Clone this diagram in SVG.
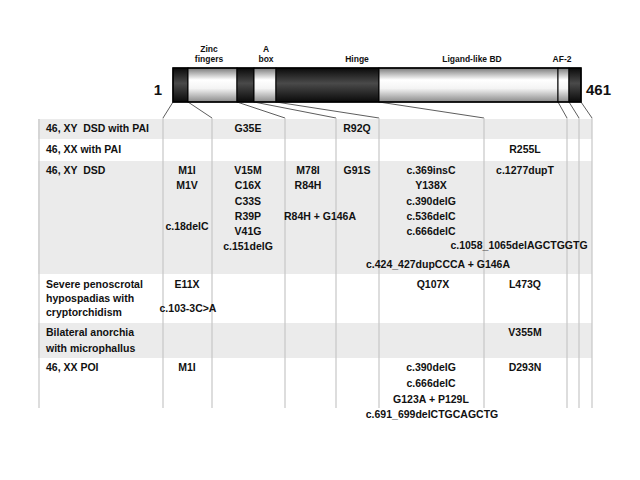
<svg xmlns="http://www.w3.org/2000/svg" width="640" height="480" viewBox="0 0 640 480">
<defs>
<linearGradient id="gLight" x1="0" y1="0" x2="0" y2="1">
<stop offset="0" stop-color="#7a7a7a"/>
<stop offset="0.35" stop-color="#ffffff"/>
<stop offset="0.6" stop-color="#f4f4f4"/>
<stop offset="1" stop-color="#8a8a8a"/>
</linearGradient>
<linearGradient id="gDark" x1="0" y1="0" x2="0" y2="1">
<stop offset="0" stop-color="#0a0a0a"/>
<stop offset="0.45" stop-color="#4a4a4a"/>
<stop offset="1" stop-color="#0a0a0a"/>
</linearGradient>
<style>
text{font-family:"Liberation Sans",Arial,sans-serif;font-weight:bold;fill:#111}
.t{font-size:10.5px}
.c{font-size:10.5px;text-anchor:middle}
.d{font-size:8.5px;text-anchor:middle}
.n{font-size:15px}
.lt{fill:url(#gLight);stroke:#000;stroke-width:1}
.dk{fill:url(#gDark);stroke:#000;stroke-width:1}
.band{fill:#ebebeb}
.vl{stroke:#c6c6c6;stroke-width:1.2;fill:none}
.sl{stroke:#333;stroke-width:0.8;fill:none}
</style>
</defs>
<rect width="640" height="480" fill="#fff"/>

<g id="table-bands">
<rect class="band" x="38" y="119" width="554" height="20"/>
<rect class="band" x="38" y="161" width="554" height="113"/>
<rect class="band" x="38" y="323" width="554" height="35"/>
</g>

<g id="connectors">
<line class="sl" x1="173" y1="102" x2="163" y2="118"/>
<line class="sl" x1="188" y1="102" x2="212" y2="118"/>
<line class="sl" x1="237" y1="102" x2="285" y2="118"/>
<line class="sl" x1="254" y1="102" x2="336" y2="118"/>
<line class="sl" x1="276" y1="102" x2="379" y2="118"/>
<line class="sl" x1="379" y1="102" x2="484" y2="118"/>
<line class="sl" x1="558" y1="102" x2="567" y2="118"/>
<line class="sl" x1="569" y1="102" x2="579" y2="118"/>
<line class="sl" x1="581" y1="102" x2="592" y2="118"/>
<line class="vl" x1="39" y1="119" x2="39" y2="408"/>
<line class="vl" x1="163" y1="118" x2="163" y2="408"/>
<line class="vl" x1="212" y1="118" x2="212" y2="408"/>
<line class="vl" x1="285" y1="118" x2="285" y2="408"/>
<line class="vl" x1="336" y1="118" x2="336" y2="408"/>
<line class="vl" x1="379" y1="118" x2="379" y2="408"/>
<line class="vl" x1="484" y1="118" x2="484" y2="408"/>
<line class="vl" x1="567" y1="118" x2="567" y2="408"/>
<line class="vl" x1="579" y1="118" x2="579" y2="408"/>
<line class="vl" x1="592" y1="118" x2="592" y2="408"/>
</g>

<g id="protein-bar">
<g id="seg-n"><rect class="dk" x="173" y="68" width="15" height="34"/></g>
<g id="seg-zinc"><rect class="lt" x="188" y="68" width="49" height="34"/></g>
<g id="seg-link"><rect class="dk" x="237" y="68" width="17" height="34"/></g>
<g id="seg-abox"><rect class="lt" x="254" y="68" width="22" height="34"/></g>
<g id="seg-hinge"><rect class="dk" x="276" y="68" width="103" height="34"/></g>
<g id="seg-lbd"><rect class="lt" x="379" y="68" width="179" height="34"/></g>
<g id="seg-af2"><rect class="lt" x="558" y="68" width="11" height="34"/></g>
<g id="seg-c"><rect class="dk" x="569" y="68" width="12" height="34"/></g>
<rect x="173" y="68" width="408" height="34" fill="none" stroke="#000" stroke-width="1.5"/>
</g>

<g id="bar-labels">
<text class="d" x="209" y="52">Zinc</text>
<text class="d" x="209" y="62">fingers</text>
<text class="d" x="266" y="52">A</text>
<text class="d" x="266" y="62">box</text>
<text class="d" x="357" y="62">Hinge</text>
<text class="d" x="472" y="62">Ligand-like BD</text>
<text class="d" x="562" y="62">AF-2</text>
<text class="n" x="162" y="95" text-anchor="end">1</text>
<text class="n" x="586" y="95">461</text>
</g>

<g id="row-xy-dsd-pai">
<text class="t" x="46" y="132" xml:space="preserve">46, XY  DSD with PAI</text>
<text class="c" x="248" y="132">G35E</text>
<text class="c" x="357" y="132">R92Q</text>
</g>

<g id="row-xx-pai">
<text class="t" x="46" y="153">46, XX with PAI</text>
<text class="c" x="525" y="153">R255L</text>
</g>

<g id="row-xy-dsd">
<text class="t" x="46" y="174" xml:space="preserve">46, XY  DSD</text>
<text class="c" x="187" y="174">M1I</text>
<text class="c" x="187" y="189">M1V</text>
<text class="c" x="187" y="230">c.18delC</text>
<text class="c" x="248" y="174">V15M</text>
<text class="c" x="248" y="189">C16X</text>
<text class="c" x="248" y="205">C33S</text>
<text class="c" x="248" y="220">R39P</text>
<text class="c" x="248" y="235">V41G</text>
<text class="c" x="248" y="250">c.151delG</text>
<text class="c" x="308" y="174">M78I</text>
<text class="c" x="308" y="189">R84H</text>
<text class="c" x="320" y="220">R84H + G146A</text>
<text class="c" x="357" y="174">G91S</text>
<text class="c" x="431" y="174">c.369insC</text>
<text class="c" x="431" y="189">Y138X</text>
<text class="c" x="431" y="205">c.390delG</text>
<text class="c" x="431" y="220">c.536delC</text>
<text class="c" x="431" y="235">c.666delC</text>
<text class="c" x="519" y="249">c.1058_1065delAGCTGGTG</text>
<text class="c" x="438" y="268">c.424_427dupCCCA + G146A</text>
<text class="c" x="525" y="174">c.1277dupT</text>
</g>

<g id="row-hypospadias">
<text class="t" x="46" y="288">Severe penoscrotal</text>
<text class="t" x="46" y="302">hypospadias with</text>
<text class="t" x="46" y="316">cryptorchidism</text>
<text class="c" x="187" y="288">E11X</text>
<text class="c" x="188" y="312">c.103-3C&gt;A</text>
<text class="c" x="433" y="288">Q107X</text>
<text class="c" x="525" y="288">L473Q</text>
</g>

<g id="row-anorchia">
<text class="t" x="46" y="336">Bilateral anorchia</text>
<text class="t" x="46" y="352">with microphallus</text>
<text class="c" x="525" y="336">V355M</text>
</g>

<g id="row-xx-poi">
<text class="t" x="46" y="371">46, XX POI</text>
<text class="c" x="187" y="371">M1I</text>
<text class="c" x="431" y="371">c.390delG</text>
<text class="c" x="431" y="387">c.666delC</text>
<text class="c" x="431" y="403">G123A + P129L</text>
<text class="c" x="432" y="418">c.691_699delCTGCAGCTG</text>
<text class="c" x="525" y="371">D293N</text>
</g>
</svg>
